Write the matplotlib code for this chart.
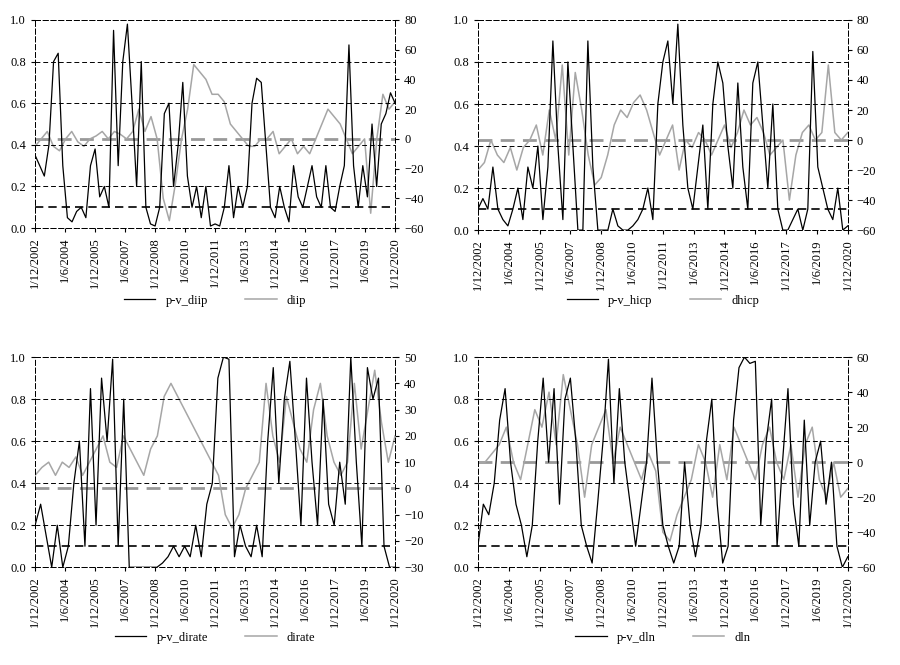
import numpy as np
import pandas as pd
import matplotlib
matplotlib.use('Agg')
import matplotlib.pyplot as plt

plt.rcParams['font.family'] = ['Liberation Serif', 'DejaVu Serif']
plt.rcParams['font.size'] = 9

tick_dates = ['2002-12-01', '2004-06-01', '2005-12-01', '2007-06-01', '2008-12-01',
              '2010-06-01', '2011-12-01', '2013-06-01', '2014-12-01', '2016-06-01',
              '2017-12-01', '2019-06-01', '2020-12-01']
tick_labels = ['1/12/2002', '1/6/2004', '1/12/2005', '1/6/2007', '1/12/2008', '1/6/2010',
               '1/12/2011', '1/6/2013', '1/12/2014', '1/6/2016', '1/12/2017', '1/6/2019',
               '1/12/2020']

pv_diip = [0.35, 0.3, 0.25, 0.4, 0.8, 0.84, 0.3, 0.05, 0.03, 0.08, 0.1, 0.05, 0.3, 0.38, 0.15,
           0.2, 0.1, 0.95, 0.3, 0.8, 0.98, 0.6, 0.2, 0.8, 0.1, 0.02, 0.01, 0.1, 0.55, 0.6, 0.2,
           0.4, 0.7, 0.25, 0.1, 0.2, 0.05, 0.2, 0.01, 0.02, 0.01, 0.1, 0.3, 0.05, 0.2, 0.1, 0.2,
           0.6, 0.72, 0.7, 0.4, 0.1, 0.05, 0.2, 0.1, 0.03, 0.3, 0.15, 0.1, 0.2, 0.3, 0.15, 0.1,
           0.3, 0.1, 0.08, 0.2, 0.3, 0.88, 0.3, 0.1, 0.3, 0.15, 0.5, 0.2, 0.5, 0.55, 0.65, 0.6]
diip = [-5, 0, 5, -5, -8, 0, 5, -2, -5, 0, 2, 5, 0, 5, 3, 0, 5, 20, 5, 15, 0, -40, -55, -30,
        0, 20, 50, 45, 40, 30, 30, 25, 10, 5, 0, -5, -5, 0, 0, 5, -10, -5, 0, -10, -5, -10,
        0, 10, 20, 15, 10, 0, -10, -5, 0, -50, 0, 30, 20, 25]
pv_hicp = [0.1, 0.15, 0.1, 0.3, 0.1, 0.05, 0.02, 0.1, 0.2, 0.05, 0.3, 0.2, 0.4, 0.05, 0.3, 0.9,
           0.4, 0.05, 0.8, 0.4, 0.0, 0.0, 0.9, 0.3, 0.0, 0.0, 0.0, 0.1, 0.02, 0.0, 0.0, 0.02,
           0.05, 0.1, 0.2, 0.05, 0.6, 0.8, 0.9, 0.6, 0.98, 0.5, 0.2, 0.1, 0.3, 0.5, 0.1, 0.6,
           0.8, 0.7, 0.4, 0.2, 0.7, 0.3, 0.1, 0.7, 0.8, 0.5, 0.2, 0.6, 0.1, 0.0, 0.0, 0.05, 0.1,
           0.0, 0.1, 0.85, 0.3, 0.2, 0.1, 0.05, 0.2, 0.0, 0.02]
dhicp = [-20, -15, 0, -10, -15, -5, -20, -5, 0, 10, -10, 20, 0, 50, -10, 45, 20, -10, -30, -25,
         -10, 10, 20, 15, 25, 30, 20, 5, -10, 0, 10, -20, 0, -5, 5, 0, -10, 0, 10, -5, 5, 20,
         10, 15, 5, -10, -5, 0, -40, -10, 5, 10, 0, 5, 50, 5, 0, 5]
pv_dirate = [0.2, 0.3, 0.15, 0.0, 0.2, 0.0, 0.1, 0.4, 0.6, 0.1, 0.85, 0.2, 0.9, 0.6, 0.99, 0.1,
             0.8, 0.0, 0.0, 0.0, 0.0, 0.0, 0.0, 0.02, 0.05, 0.1, 0.05, 0.1, 0.05, 0.2, 0.05,
             0.3, 0.4, 0.9, 1.0, 0.99, 0.05, 0.2, 0.1, 0.05, 0.2, 0.05, 0.6, 0.95, 0.4, 0.8,
             0.98, 0.6, 0.2, 0.9, 0.5, 0.2, 0.8, 0.3, 0.2, 0.5, 0.3, 1.0, 0.5, 0.1, 0.95, 0.8,
             0.9, 0.1, 0.0, 0.0]
dirate = [5, 8, 10, 5, 10, 8, 12, 5, 10, 15, 20, 10, 8, 20, 15, 10, 5, 15, 20, 35, 40, 35, 30,
          25, 20, 15, 10, 5, -10, -15, -10, 0, 5, 10, 40, 20, 10, 35, 25, 15, 10, 30, 40, 20,
          10, 5, 10, 40, 15, 30, 45, 25, 10, 20]
pv_dln = [0.1, 0.3, 0.25, 0.4, 0.7, 0.85, 0.5, 0.3, 0.2, 0.05, 0.2, 0.6, 0.9, 0.5, 0.85, 0.3,
          0.8, 0.9, 0.6, 0.2, 0.1, 0.02, 0.3, 0.6, 0.99, 0.4, 0.85, 0.5, 0.3, 0.1, 0.3, 0.5,
          0.9, 0.5, 0.2, 0.1, 0.02, 0.1, 0.5, 0.2, 0.05, 0.2, 0.6, 0.8, 0.3, 0.02, 0.1, 0.7,
          0.95, 1.0, 0.97, 0.98, 0.2, 0.6, 0.8, 0.1, 0.5, 0.85, 0.3, 0.1, 0.7, 0.2, 0.5, 0.6,
          0.3, 0.5, 0.1, 0.0, 0.05]
dln = [0, 0, 5, 10, 20, 0, -10, 10, 30, 20, 40, 10, 50, 30, 10, -20, 10, 20, 30, 0, 20, 10, 0,
       -10, 5, -5, -40, -45, -30, -20, -10, 10, 0, -20, 10, -10, 20, 10, 0, -10, 10, 20, 0,
       -10, 10, -20, 10, 20, -10, -20, 0, -20, -15]

panels = [
    ('p-v_diip', pv_diip, 'diip', diip, (-60, 80, 20)),
    ('p-v_hicp', pv_hicp, 'dhicp', dhicp, (-60, 80, 20)),
    ('p-v_dirate', pv_dirate, 'dirate', dirate, (-30, 50, 10)),
    ('p-v_dln', pv_dln, 'dln', dln, (-60, 60, 20)),
]
rects = [[0.039, 0.657, 0.40, 0.313], [0.531, 0.654, 0.411, 0.316],
         [0.039, 0.147, 0.40, 0.316], [0.531, 0.147, 0.411, 0.316]]
leg_y = [0.522, 0.522, 0.015, 0.015]

start, end = pd.Timestamp('2002-12-01'), pd.Timestamp('2020-12-01')
fig = plt.figure(figsize=(9, 6.65), dpi=100)
for (n1, s1, n2, s2, rr), rect, ly in zip(panels, rects, leg_y):
    ax = fig.add_axes(rect)
    ax2 = ax.twinx()
    x1 = pd.date_range(start, end, periods=len(s1))
    x2 = pd.date_range(start, end, periods=len(s2))
    for y in np.arange(0.2, 1.01, 0.2):
        ax.axhline(y, color='black', ls=(0, (5, 3)), lw=0.7)
    ax.axhline(0.1, color='black', ls=(0, (5, 3)), lw=1.2)
    ax2.axhline(0, color='#999999', ls=(0, (5, 3)), lw=2)
    ax2.plot(x2, s2, color='#a6a6a6', lw=1.1)
    l1, = ax.plot(x1, s1, color='black', lw=0.9)
    ax.set_zorder(ax2.get_zorder() + 1)
    ax.patch.set_visible(False)
    ax.set_ylim(0, 1)
    ax.set_yticks(np.arange(0, 1.01, 0.2))
    ax.set_yticklabels(['%.1f' % v for v in np.arange(0, 1.01, 0.2)])
    ax2.set_ylim(rr[0], rr[1])
    ax2.set_yticks(np.arange(rr[0], rr[1] + 1, rr[2]))
    ax.set_xlim(start, end)
    ax.set_xticks(pd.to_datetime(tick_dates))
    ax.set_xticklabels(tick_labels, rotation=90)
    for a in (ax, ax2):
        for sp in a.spines.values():
            sp.set_linestyle((0, (5, 3)))
            sp.set_linewidth(0.7)
        a.tick_params(length=3)
    l2, = ax.plot([], [], color='#a6a6a6', lw=1.1)
    fig.legend([l1, l2], [n1, n2], loc='lower center', ncol=2, frameon=False,
               bbox_to_anchor=(rect[0] + rect[2] / 2, ly), handlelength=2.5, columnspacing=3)

fig.savefig('out.png', dpi=100)
